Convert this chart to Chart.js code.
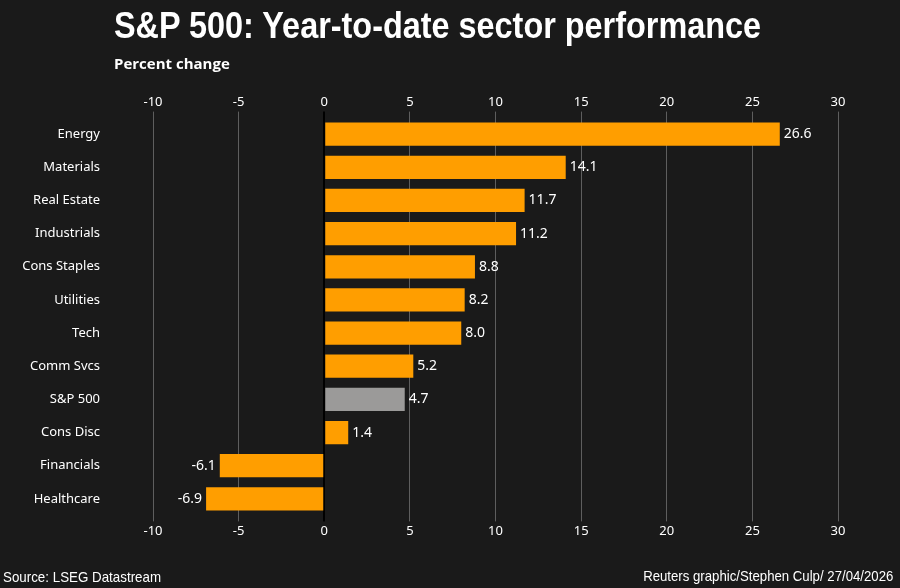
<!DOCTYPE html>
<html>
<head>
<meta charset="utf-8">
<script src="https://cdn.jsdelivr.net/npm/chart.js@4"></script>
<style>
  html, body { margin: 0; padding: 0; background: #1a1a1a; }
  #wrap { position: relative; width: 900px; height: 588px; background: #1a1a1a; overflow: hidden; }
  #chart { position: absolute; left: 0; top: 0; }
  .txt { position: absolute; color: #fff; white-space: nowrap; }
  #title { left: 114px; top: 5px; font: bold 36px "Liberation Sans", sans-serif; transform: scaleX(0.9); transform-origin: left top; }
  #sub { left: 114px; top: 53px; font: bold 15px "Open Sans", sans-serif; }
  #src { left: 3px; top: 568px; font: 15px "Liberation Sans", sans-serif; transform: scaleX(0.89); transform-origin: left top; }
  #credit { right: 7px; top: 567px; font: 15px "Liberation Sans", sans-serif; transform: scaleX(0.88); transform-origin: right top; }
</style>
</head>
<body>
<div id="wrap">
  <canvas id="chart" width="900" height="588"></canvas>
  <div class="txt" id="title">S&amp;P 500: Year-to-date sector performance</div>
  <div class="txt" id="sub">Percent change</div>
  <div class="txt" id="src">Source: LSEG Datastream</div>
  <div class="txt" id="credit">Reuters graphic/Stephen Culp/ 27/04/2026</div>
</div>
<script>
let sectors = ['Energy','Materials','Real Estate','Industrials','Cons Staples','Utilities','Tech','Comm Svcs','S&P 500','Cons Disc','Financials','Healthcare'];
let ytdChange = [26.6,14.1,11.7,11.2,8.8,8.2,8.0,5.2,4.7,1.4,-6.1,-6.9];
let axisMin = -10;
let axisMax = 30;
let axisStep = 5;

let barColors = sectors.map(function(s){ return s === 'S&P 500' ? '#9b9a99' : '#ff9e00'; });

// value labels at the end of every bar
let valueLabels = {
	id: 'valueLabels',
	afterDatasetsDraw: function(chart){
		let ctx = chart.ctx;
		let meta = chart.getDatasetMeta(0);
		ctx.save();
		ctx.font = '14px "Noto Sans"';
		ctx.fillStyle = '#ffffff';
		ctx.textBaseline = 'middle';
		meta.data.forEach(function(bar, i){
			let v = ytdChange[i];
			if (v >= 0) {
				ctx.textAlign = 'left';
				ctx.fillText(v.toFixed(1), bar.x + 4, bar.y);
			} else {
				ctx.textAlign = 'right';
				ctx.fillText(v.toFixed(1), bar.x - 4, bar.y);
			}
		});
		ctx.restore();
	}
};

function gridColor(c){ return c.tick && c.tick.value === 0 ? '#000000' : '#5e5e5e'; }
function gridWidth(c){ return c.tick && c.tick.value === 0 ? 2 : 1; }

let tickFont = { family: 'Noto Sans', size: 13 };

let config = {
	type: 'bar',
	data: {
		labels: sectors,
		datasets: [{
			label: 'YTD change',
			data: ytdChange,
			backgroundColor: barColors,
			borderWidth: 0,
			barPercentage: 0.7,
			categoryPercentage: 1.0,
			xAxisID: 'x'
		}]
	},
	options: {
		indexAxis: 'y',
		responsive: false,
		animation: false,
		layout: { padding: { top: 92, bottom: 47, left: 0, right: 62 } },
		plugins: { legend: { display: false }, tooltip: { enabled: false } },
		scales: {
			x: {
				position: 'top',
				min: axisMin, max: axisMax,
				ticks: { stepSize: axisStep, color: '#ffffff', font: tickFont, padding: 2 },
				grid: { color: gridColor, lineWidth: gridWidth, tickLength: 6 },
				border: { display: false }
			},
			x2: {
				position: 'bottom',
				type: 'linear',
				min: axisMin, max: axisMax,
				ticks: { stepSize: axisStep, color: '#ffffff', font: tickFont, padding: 2 },
				grid: { color: gridColor, lineWidth: gridWidth, tickLength: 6, drawOnChartArea: false },
				border: { display: false }
			},
			y: {
				ticks: { color: '#ffffff', font: tickFont, padding: 45 },
				grid: { display: false },
				border: { display: false },
				afterFit: function(scale){ scale.width = 153; }
			}
		}
	},
	plugins: [valueLabels]
};

let chartSectors = new Chart(document.getElementById('chart'), config);
</script>
</body>
</html>
